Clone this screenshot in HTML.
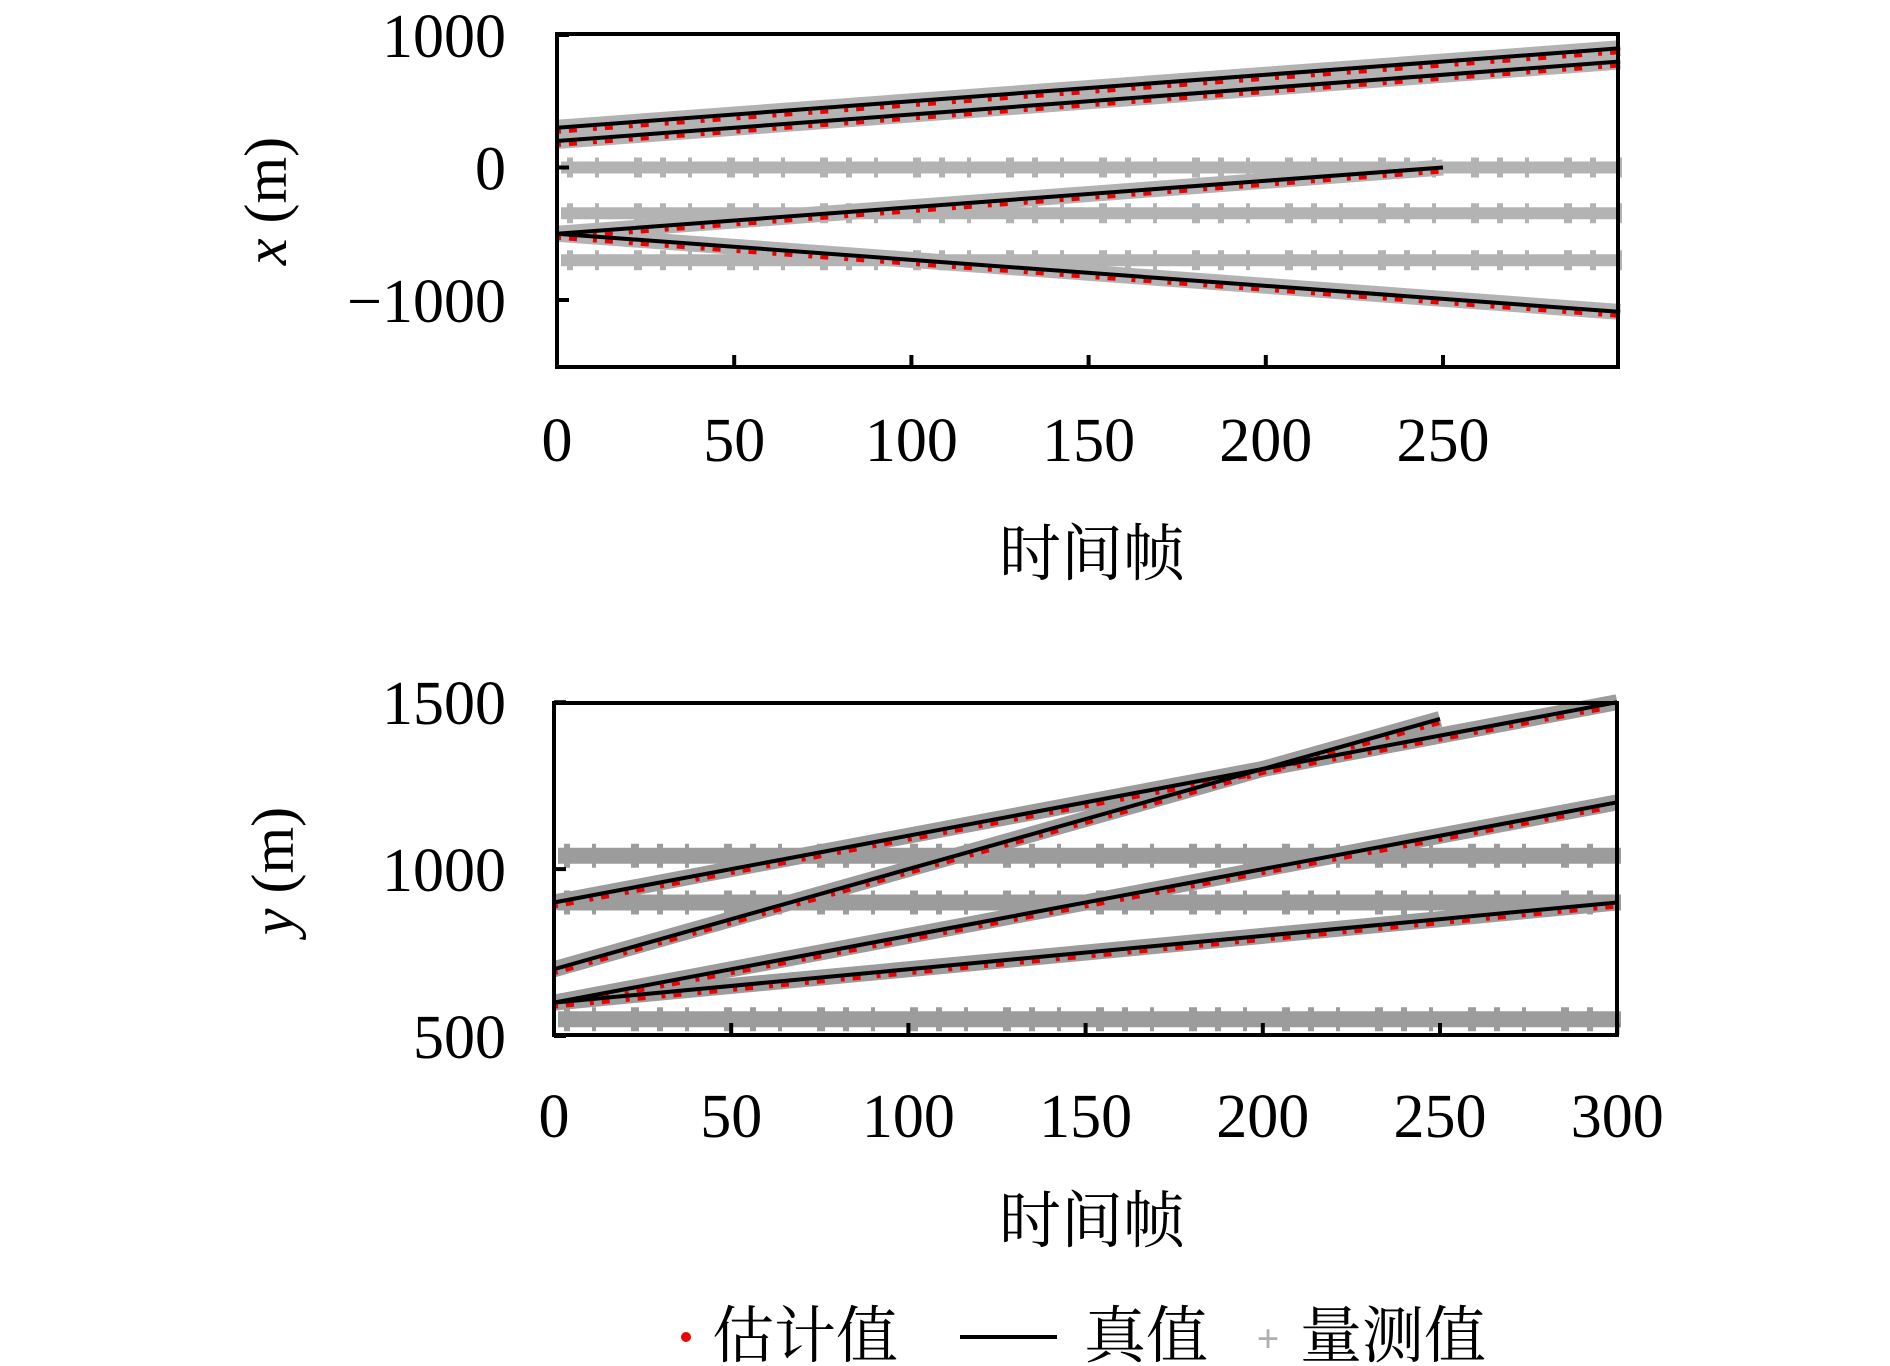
<!DOCTYPE html>
<html><head><meta charset="utf-8">
<style>
html,body{margin:0;padding:0;background:#fff;}
svg{display:block;}
text{font-family:"Liberation Serif","Noto Serif CJK SC",serif;fill:#000;}
.cjk{font-family:"Liberation Serif","Noto Serif CJK SC","Noto Sans CJK SC",serif;}
</style></head>
<body>
<svg id="chart" width="1890" height="1366" viewBox="0 0 1890 1366" xmlns="http://www.w3.org/2000/svg">
<g id="top"></g>
<g id="bot"></g>
<g id="legend">
  <circle cx="686" cy="1337" r="5" fill="#e00"/>
  <text x="712" y="1357" font-size="62" class="cjk">估计值</text>
  <line x1="960" y1="1337" x2="1057" y2="1337" stroke="#000" stroke-width="4"/>
  <text x="1084" y="1357" font-size="62" class="cjk">真值</text>
  <text x="1268" y="1352" font-size="40" text-anchor="middle" style="fill:#b0b0b0;font-weight:bold">+</text>
  <text x="1300" y="1357" font-size="62" class="cjk">量测值</text>
</g>
</svg>
<script>
// ---- data: top panel (x position) ----
const topTrackFrames = [[0,100,200,300],[0,100,200,300],[0,100,200,250],[0,100,200,300]];
const topTrackValues = [[300,500,700,900],[200,400,600,800],[-500,-300,-100,0],[-500,-697,-893,-1090]];
const topClutter = [0,-345,-700];
const topYTicks = [1000,0,-1000];
const topYTickLabels = ["1000","0","\u22121000"];
const topXTicks = [0,50,100,150,200,250];
// ---- data: bottom panel (y position) ----
const botTrackFrames = [[0,100,200,300],[0,100,200,250],[0,100,200,300],[0,100,200,300]];
const botTrackValues = [[900,1100,1300,1500],[700,1000,1300,1450],[600,800,1000,1200],[600,700,800,900]];
const botClutter = [1040,900,550];
const botYTicks = [1500,1000,500];
const botYTickLabels = ["1500","1000","500"];
const botXTicks = [0,50,100,150,200,250,300];

const NS="http://www.w3.org/2000/svg";
function mk(parent,tag,attrs){const e=document.createElementNS(NS,tag);for(const k in attrs)e.setAttribute(k,attrs[k]);parent.appendChild(e);return e;}

function panel(g,cfg){
  const sx=f=>cfg.x0+f*cfg.kx;
  const sy=v=>cfg.y0-(v-cfg.v0)*cfg.ky;
  // clutter bands
  cfg.clutter.forEach(v=>{
    const l=mk(g,'line',{x1:cfg.left+4,x2:cfg.right+4,y1:sy(v),y2:sy(v),stroke:cfg.grey,'stroke-width':cfg.bandW});
    
    
    const l2=mk(g,'line',{x1:cfg.left+10,x2:cfg.right+4,y1:sy(v),y2:sy(v),stroke:cfg.grey,'stroke-width':cfg.bandW+8,'stroke-dasharray':'6 22 4 35 8 18'});
    
    
  });
  // measurement bands along tracks
  cfg.frames.forEach((fr,i)=>{
    const pts=fr.map((f,j)=>sx(f)+','+sy(cfg.values[i][j])).join(' ');
    const m=mk(g,'polyline',{points:pts,fill:'none',stroke:cfg.grey,'stroke-width':16});
    
    
  });
  // estimates
  cfg.frames.forEach((fr,i)=>{
    const pts=fr.map((f,j)=>sx(f)+','+(sy(cfg.values[i][j])+4)).join(' ');
    const r=mk(g,'polyline',{points:pts,fill:'none',stroke:'#e00','stroke-width':4,'stroke-dasharray':'4 8 8 16'});
    
    
  });
  // truth lines
  cfg.frames.forEach((fr,i)=>{
    const pts=fr.map((f,j)=>sx(f)+','+sy(cfg.values[i][j])).join(' ');
    const t=mk(g,'polyline',{points:pts,fill:'none',stroke:'#000','stroke-width':4});
    
    
  });
  // frame
  const b=mk(g,'rect',{x:cfg.left,y:cfg.top,width:cfg.right-cfg.left,height:cfg.bottom-cfg.top,fill:'none',stroke:'#000','stroke-width':4});
  
  
  // y ticks
  cfg.yTicks.forEach((v,i)=>{
    const tk=mk(g,'line',{x1:cfg.left,x2:cfg.left+12,y1:sy(v),y2:sy(v),stroke:'#000','stroke-width':4});
    
    
    const t=mk(g,'text',{x:506,y:sy(v)+22,'font-size':62,'text-anchor':'end'});
    t.textContent=cfg.yLabels[i];
    
    
  });
  // x ticks
  cfg.xTicks.forEach(f=>{
    const tk=mk(g,'line',{x1:sx(f),x2:sx(f),y1:cfg.bottom,y2:cfg.bottom-12,stroke:'#000','stroke-width':4});
    
    
    const t=mk(g,'text',{x:sx(f),y:cfg.xLabY,'font-size':62,'text-anchor':'middle'});
    t.textContent=String(f);
    
    
  });
  const xl=mk(g,'text',{x:1092,y:cfg.xTitleY,'font-size':62,'text-anchor':'middle',class:'cjk'});
  xl.textContent='时间帧';
  
  
  const yl=mk(g,'text',{x:0,y:0,'font-size':60,'text-anchor':'middle',transform:'translate('+cfg.yTitleX+','+cfg.yTitleY+') rotate(-90)'});
  yl.innerHTML='<tspan font-style="italic">'+cfg.yVar+'</tspan> (m)';
  
  
}

panel(document.getElementById('top'),{x0:557,kx:3.544,y0:167.5,v0:0,ky:0.1325,left:557,right:1618,top:34,bottom:367,
  grey:'#b3b3b3',bandW:12,clutter:topClutter,frames:topTrackFrames,values:topTrackValues,
  yTicks:topYTicks,yLabels:topYTickLabels,xTicks:topXTicks,xLabY:461,xTitleY:575,yTitleX:286,yTitleY:201,yVar:'x'});
panel(document.getElementById('bot'),{x0:554,kx:3.544,y0:1036,v0:500,ky:0.3338,left:554,right:1617,top:703,bottom:1035,
  grey:'#9c9c9c',bandW:16,clutter:botClutter,frames:botTrackFrames,values:botTrackValues,
  yTicks:botYTicks,yLabels:botYTickLabels,xTicks:botXTicks,xLabY:1137,xTitleY:1242,yTitleX:293,yTitleY:871,yVar:'y'});
</script>
</body></html>
